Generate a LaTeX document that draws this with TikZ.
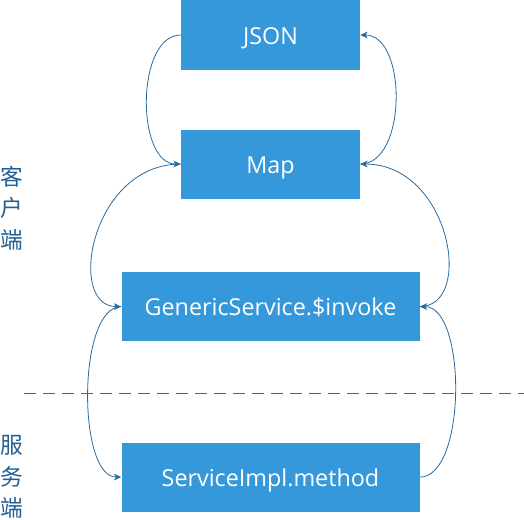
\documentclass[tikz,border=0pt]{standalone}
\usepackage{fontspec}
\setmainfont{Open Sans}
\newfontfamily\cjkfont{Noto Sans CJK SC}
\usetikzlibrary{positioning,arrows.meta}
\definecolor{BoxBlue}{RGB}{53,152,219}
\definecolor{LineBlue}{RGB}{40,106,160}
\definecolor{LabelBlue}{RGB}{31,96,150}
\tikzstyle{BoxNode}=[rectangle, fill=BoxBlue, text=white, inner sep=0pt, align=center, text height=14pt, text depth=0pt, font=\fontsize{17.5}{20}\selectfont]
\tikzstyle{FlowArrow}=[draw=LineBlue, line width=0.6pt, -{Stealth[length=5.5pt, width=5pt, inset=1.5pt]}]
\tikzstyle{SideLabel}=[text=LabelBlue, align=center, inner sep=0pt, font=\cjkfont\fontsize{17}{23.5}\selectfont]

\begin{document}
\begin{tikzpicture}[x=0.75pt, y=-0.75pt]

    \useasboundingbox (0,0) rectangle (524,519);

    \node (Json) [BoxNode, minimum width=134.25pt, minimum height=52.5pt] at (270.5,35) {JSON};
    \node (Map) [BoxNode, minimum width=134.25pt, minimum height=51.75pt, below=44.25pt of Json] {Map};
    \node (Generic) [BoxNode, minimum width=223.5pt, minimum height=51.75pt, below=54.75pt of Map] {GenericService.\$invoke};
    \node (Impl) [BoxNode, minimum width=223.5pt, minimum height=51.75pt, below=75.75pt of Generic] {ServiceImpl.method};

    \node (Client) [SideLabel] at (12,208) {客\\户\\端};
    \node (Server) [SideLabel] at (12,477) {服\\务\\端};

    \coordinate (SplitL) at (24,393);
    \coordinate (SplitR) at (524,393);
    \draw [LineBlue, line width=0.6pt, dash pattern=on 9pt off 5.25pt] (SplitL) -- (SplitR);

    \draw [FlowArrow] (Json.west) .. controls +(-45,0) and +(-45,0) .. (Map.west);
    \draw [FlowArrow] (Map.west) .. controls +(-90,0) and +(-55,0) .. (Generic.west);
    \draw [FlowArrow] (Generic.west) .. controls +(-44,0) and +(-44,0) .. (Impl.west);
    \draw [FlowArrow] (Impl.east) .. controls +(47,0) and +(47,0) .. (Generic.east);
    \draw [FlowArrow] (Generic.east) .. controls +(55,0) and +(90,0) .. (Map.east);
    \draw [FlowArrow] (Map.east) .. controls +(47,0) and +(47,0) .. (Json.east);

  \end{tikzpicture}
\end{document}
